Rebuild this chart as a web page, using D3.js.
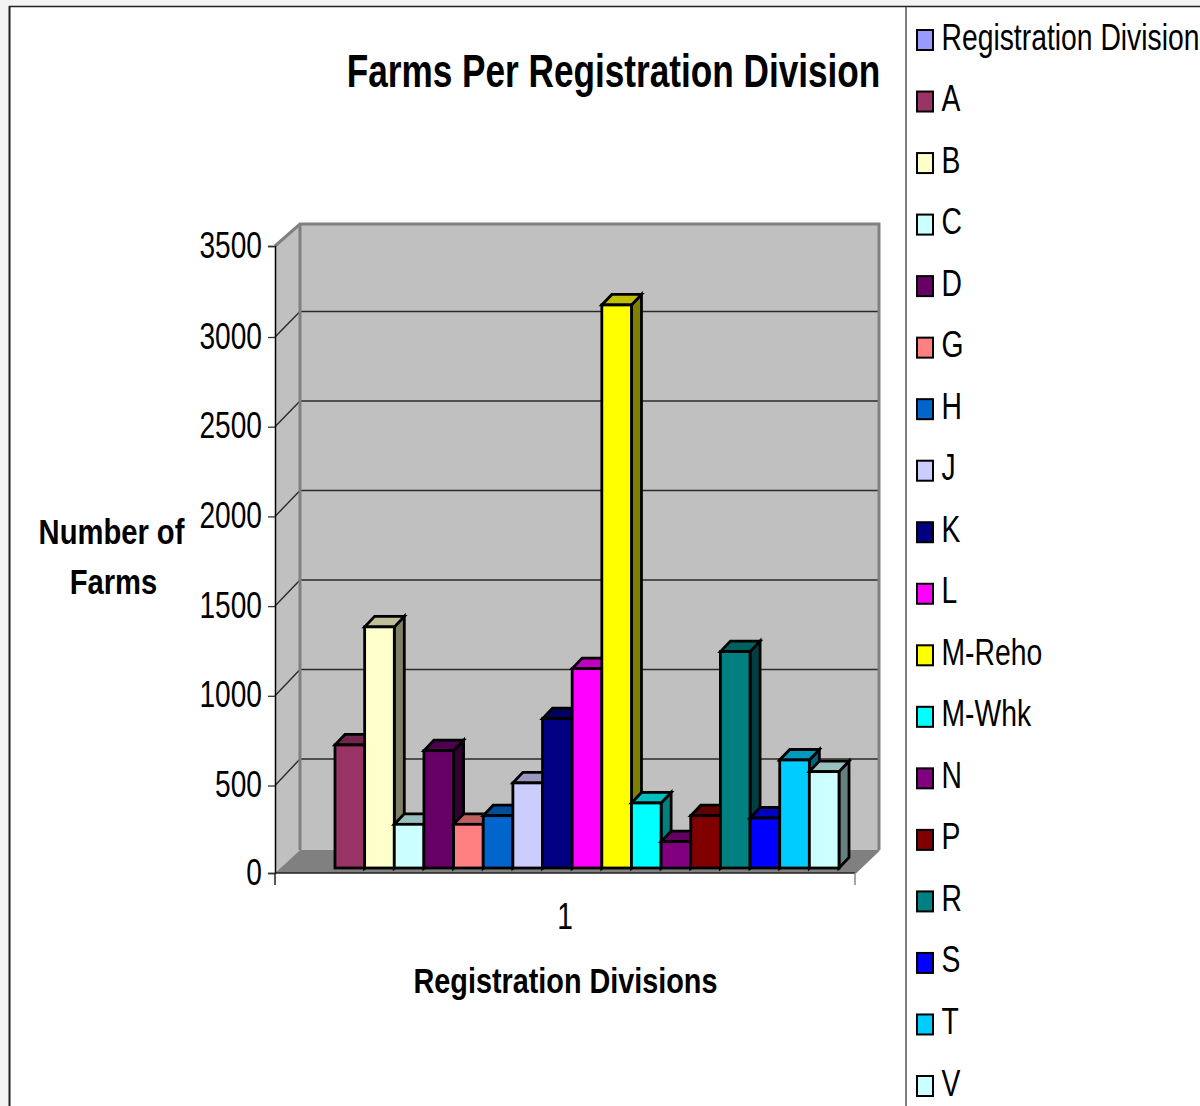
<!DOCTYPE html>
<html><head><meta charset="utf-8">
<script src="https://cdnjs.cloudflare.com/ajax/libs/d3/7.8.5/d3.min.js"></script>
<style>html,body{margin:0;padding:0;background:#f3f3f3;overflow:hidden}svg{display:block}
text{font-family:"Liberation Sans",Arial,sans-serif;fill:#000}</style></head>
<body><svg id="c" width="1200" height="1106"></svg>
<script>
const seriesNames=["Registration Division","A","B","C","D","G","H","J","K","L","M-Reho","M-Whk","N","P","R","S","T","V"];
const seriesValues=[null,687,1346,244,655,244,292,475,834,1113,3143,363,147,292,1208,279,603,538];
const seriesColors=["#9999FF","#993366","#FFFFCC","#CCFFFF","#660066","#FF8080","#0066CC","#CCCCFF","#000080","#FF00FF","#FFFF00","#00FFFF","#800080","#800000","#008080","#0000FF","#00CCFF","#CCFFFF"];
const yTicks=[0,500,1000,1500,2000,2500,3000,3500];
const chartTitle="Farms Per Registration Division",xTitle="Registration Divisions",yTitle=["Number of","Farms"],xCategory="1";

const svg=d3.select("#c");
const depthX=10,depthY=10.5;
const yFront=d3.scaleLinear().domain([0,500,3000,3500]).range([873,785.5,337,246]);
const yWall=d3.scaleLinear().domain([0,3500]).range([850,224]);
const yGrid=d3.scaleLinear().domain([0,3500]).range([848.5,222]);
const yBarScale=d3.scaleLinear().domain([0,3500]).range([868,241]);
const x=d3.scaleBand().domain(seriesNames).range([305.35,839]);
const poly=p=>p.map(d=>d.join(",")).join(" ");
// horizontally condensed text, anchored at (px,py)
const label=(sel,px,py,sx,anchor,size,bold,t)=>sel.append("text")
  .attr("transform",`translate(${px},${py}) scale(${sx},1)`).attr("text-anchor",anchor)
  .attr("font-size",size).attr("font-weight",bold?"bold":"normal").text(t);

svg.append("rect").attr("x",10).attr("y",7).attr("width",1190).attr("height",1099).attr("fill","#fff");
svg.append("line").attr("x1",9.5).attr("x2",9.5).attr("y1",6).attr("y2",1106).attr("stroke","#222").attr("stroke-width",2);
svg.append("line").attr("x1",9).attr("x2",1200).attr("y1",6.5).attr("y2",6.5).attr("stroke","#222").attr("stroke-width",1.5);
svg.append("line").attr("x1",906).attr("x2",906).attr("y1",7).attr("y2",1106).attr("stroke","#555").attr("stroke-width",1.5);

// walls and floor
const L=275,R=855,BL=300,BR=879;
svg.append("polygon").attr("points",poly([[L,yFront(3500)],[BL,yWall(3500)],[BL,yWall(0)],[L,yFront(0)]])).attr("fill","#c0c0c0");
svg.append("rect").attr("x",BL).attr("y",yWall(3500)).attr("width",BR-BL).attr("height",yWall(0)-yWall(3500)).attr("fill","#c0c0c0");
svg.append("polygon").attr("points",poly([[L,yFront(0)],[BL,yWall(0)],[BR,yWall(0)],[R,yFront(0)]])).attr("fill","#808080");
// gridlines
const grid=svg.append("g").attr("stroke","#2a2a2a").attr("stroke-width",1.4);
yTicks.filter(t=>t>0&&t<3500).forEach(t=>{
  grid.append("line").attr("x1",BL).attr("x2",BR).attr("y1",yGrid(t)).attr("y2",yGrid(t));
  grid.append("line").attr("x1",L).attr("x2",BL).attr("y1",yFront(t)).attr("y2",yGrid(t));
});
// wall edges
svg.append("path").attr("fill","none").attr("stroke","#808080").attr("stroke-width",3)
  .attr("d",`M${L},${yFront(3500)}L${BL},${yWall(3500)}H${BR}V${yWall(0)}M${BL},${yWall(3500)}V${yWall(0)}`);
svg.append("path").attr("fill","none").attr("stroke","#808080").attr("stroke-width",2)
  .attr("d",`M${R},${yFront(0)}L${BR},${yWall(0)}`);

// bars
const shade=(c,k)=>{const o=d3.rgb(c);return d3.rgb(o.r*k,o.g*k,o.b*k).formatHex();};
const y0=yBarScale(0);
const bars=svg.append("g").selectAll("g").data(seriesNames.map((n,i)=>({n,v:seriesValues[i],c:seriesColors[i]})).filter(d=>d.v!=null)).join("g")
  .attr("stroke","#000").attr("stroke-width",2.8).attr("stroke-linejoin","miter");
bars.append("polygon").attr("fill",d=>shade(d.c,.5)).attr("points",d=>{const a=x(d.n)+x.bandwidth(),t=yBarScale(d.v);return poly([[a,t],[a+depthX,t-depthY],[a+depthX,y0-depthY],[a,y0]]);});
bars.append("polygon").attr("fill",d=>shade(d.c,.75)).attr("points",d=>{const a=x(d.n),b=a+x.bandwidth(),t=yBarScale(d.v);return poly([[a,t],[a+depthX,t-depthY],[b+depthX,t-depthY],[b,t]]);});
bars.append("rect").attr("fill",d=>d.c).attr("x",d=>x(d.n)).attr("width",x.bandwidth()).attr("y",d=>yBarScale(d.v)).attr("height",d=>y0-yBarScale(d.v));

// axes
const axY=svg.append("g").attr("transform",`translate(${L},0)`).call(d3.axisLeft(yFront).tickValues(yTicks).tickSize(7).tickFormat(""));
axY.selectAll("path").attr("stroke","#000").attr("stroke-width",1.5);
axY.selectAll("line").attr("stroke","#333").attr("stroke-width",1.3);
const tickLabels=svg.append("g");
yTicks.forEach(t=>label(tickLabels,262,yFront(t)+11.5,.76,"end",37,false,d3.format("d")(t)));
svg.append("line").attr("x1",L).attr("x2",R).attr("y1",873).attr("y2",873).attr("stroke","#222").attr("stroke-width",1.5);
svg.append("line").attr("x1",L).attr("x2",L).attr("y1",873).attr("y2",885).attr("stroke","#222").attr("stroke-width",1.5);
svg.append("line").attr("x1",R).attr("x2",R).attr("y1",873).attr("y2",885).attr("stroke","#888").attr("stroke-width",1.5);
label(svg,565,929,.76,"middle",37,false,xCategory);

// titles
label(svg,613.5,87,.765,"middle",46,true,chartTitle);
label(svg,565.5,993,.80,"middle",36,true,xTitle);
yTitle.forEach((t,i)=>label(svg,111.5+i*2,544+i*50,.81,"middle",36,true,t));

// legend
const ly=d3.scalePoint().domain(seriesNames).range([38,1084]);
const leg=svg.append("g").selectAll("g").data(seriesNames).join("g").attr("transform",d=>`translate(917,${ly(d)})`);
leg.append("rect").attr("x",0).attr("y",-8).attr("width",16).attr("height",20).attr("fill",(d,i)=>seriesColors[i]).attr("stroke","#000").attr("stroke-width",2);
leg.each(function(d){label(d3.select(this),24.5,11.5,.765,"start",37,false,d);});
</script></body></html>
